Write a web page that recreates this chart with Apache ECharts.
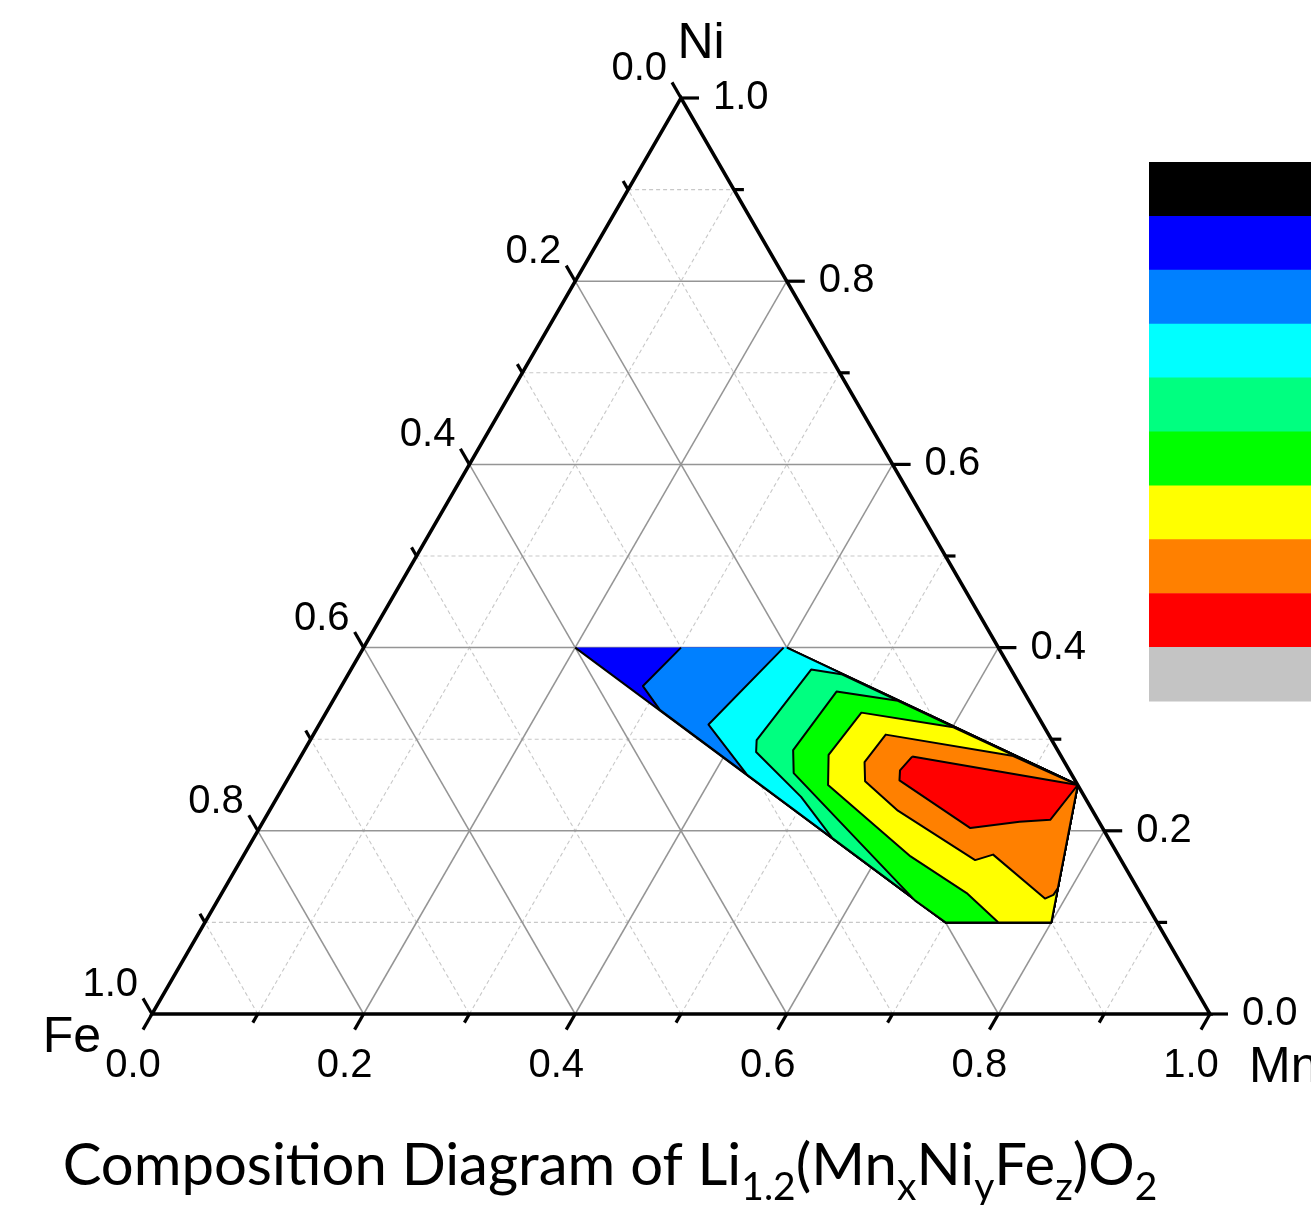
<!DOCTYPE html>
<html>
<head>
<meta charset="utf-8">
<script src="https://cdn.jsdelivr.net/npm/echarts@6/dist/echarts.min.js"></script>
<style>
  html, body { margin: 0; padding: 0; background: #ffffff; }
  #chart { width: 1311px; height: 1205px; }
</style>
</head>
<body>
<div id="chart"></div>
<script>
// Ternary axes: fractions of Mn (bottom), Ni (right), Fe (left)
const majorTicks = [0, 0.2, 0.4, 0.6, 0.8, 1.0];
const minorTicks = [0.1, 0.3, 0.5, 0.7, 0.9];
const tickLabels = ['0.0', '0.2', '0.4', '0.6', '0.8', '1.0'];
const gridMajor = [0.2, 0.4, 0.6, 0.8];
const gridMinor = [0.1, 0.3, 0.5, 0.7, 0.9];

// Contour fill colours, lowest level first
const levelColors = ['#0000ff', '#0080ff', '#00ffff', '#00ff80', '#00ff00', '#ffff00', '#ff8000', '#ff0000'];
// Colour scale column, top to bottom
const scaleColors = ['#000000', '#0000ff', '#0080ff', '#00ffff', '#00ff80', '#00ff00', '#ffff00', '#ff8000', '#ff0000', '#c4c4c4'];

// Regions at or above each contour level, as [Mn, Ni] fractions (Fe = 1 - Mn - Ni)
const level1 = [[0.4, 0.4], [0.75, 0.25], [0.8, 0.1], [0.7, 0.1], [0.2, 0.4]];
const level2 = [[0.4, 0.4], [0.75, 0.25], [0.8, 0.1], [0.7, 0.1], [0.314, 0.332], [0.285, 0.358], [0.30, 0.4]];
const level3 = [[0.397, 0.4], [0.4, 0.4], [0.75, 0.25], [0.8, 0.1], [0.7, 0.1], [0.432, 0.261], [0.368, 0.316]];
const level4 = [[0.466, 0.371], [0.75, 0.25], [0.8, 0.1], [0.7, 0.1], [0.547, 0.192], [0.495, 0.237], [0.428, 0.286], [0.422, 0.299], [0.435, 0.376]];
const level5 = [[0.534, 0.342], [0.75, 0.25], [0.8, 0.1], [0.7, 0.1], [0.659, 0.124], [0.475, 0.263], [0.462, 0.288], [0.471, 0.352]];
const level6 = [[0.601, 0.313], [0.75, 0.25], [0.8, 0.1], [0.75, 0.1], [0.704, 0.132], [0.631, 0.172], [0.514, 0.25], [0.498, 0.283], [0.506, 0.329]];
const level7 = [[0.672, 0.282], [0.75, 0.25], [0.7875, 0.1375], [0.787, 0.130], [0.781, 0.126], [0.708, 0.174], [0.694, 0.168], [0.594, 0.222], [0.547, 0.254], [0.536, 0.275], [0.541, 0.305]];
const level8 = [[0.578, 0.281], [0.75, 0.25], [0.743, 0.212], [0.715, 0.210], [0.672, 0.203], [0.579, 0.255], [0.574, 0.266]];
const levels = [level1, level2, level3, level4, level5, level6, level7, level8];

const SQ = Math.sqrt(3) / 2;
// ternary [Mn, Ni] -> cartesian data coordinates
function tern(p) { return [p[0] + p[1] / 2, p[1] * SQ]; }

const LABEL_FONT = 'Liberation Sans, Arial, sans-serif';

// endpoints of a constant-fraction line for a given component
function constLine(comp, t) {
  if (comp === 0) return [[t, 0], [t, 1 - t]];          // Mn = t
  if (comp === 1) return [[0, t], [1 - t, t]];          // Ni = t
  return [[1 - t, 0], [0, 1 - t]];                      // Fe = t
}

function gridData(vals) {
  const out = [];
  vals.forEach(t => { for (let c = 0; c < 3; c++) out.push([c, t]); });
  return out;
}

function gridSeries(vals, style) {
  return {
    type: 'custom',
    coordinateSystem: 'cartesian2d',
    silent: true,
    data: gridData(vals),
    renderItem: function (params, api) {
      const ends = constLine(api.value(0), api.value(1));
      const a = api.coord(tern(ends[0]));
      const b = api.coord(tern(ends[1]));
      return { type: 'line', shape: { x1: a[0], y1: a[1], x2: b[0], y2: b[1] }, style: style };
    }
  };
}

const contourSeries = {
  type: 'custom',
  coordinateSystem: 'cartesian2d',
  silent: true,
  data: levels.map((l, i) => [i]),
  renderItem: function (params, api) {
    const idx = api.value(0);
    const poly = levels[idx];
    const pts = poly.map(p => api.coord(tern(p)));
    const children = [{
      type: 'polygon',
      shape: { points: pts },
      style: { fill: levelColors[idx], stroke: null }
    }];
    // outline every edge except the ones lying on the Ni = 0.4 boundary
    const n = poly.length;
    let run = [];
    const runs = [];
    let start = 0;
    for (let i = 0; i < n; i++) {
      const a = poly[i], b = poly[(i + 1) % n];
      if (a[1] >= 0.3995 && b[1] >= 0.3995) { start = (i + 1) % n; break; }
    }
    for (let k = 0; k < n; k++) {
      const i = (start + k) % n;
      const a = poly[i], b = poly[(i + 1) % n];
      const skip = a[1] >= 0.3995 && b[1] >= 0.3995;
      if (skip) {
        if (run.length) { runs.push(run); run = []; }
      } else {
        if (!run.length) run.push(pts[i]);
        run.push(pts[(i + 1) % n]);
      }
    }
    if (run.length) runs.push(run);
    runs.forEach(r => {
      children.push({
        type: 'polyline',
        shape: { points: r },
        style: { stroke: '#000000', lineWidth: 2, fill: null, lineJoin: 'round' }
      });
    });
    return { type: 'group', children: children };
  }
};

function label(x, y, text, align, size) {
  return {
    type: 'text',
    x: x, y: y,
    style: {
      text: text, fill: '#000000',
      fontSize: size, fontFamily: LABEL_FONT,
      align: align, verticalAlign: 'middle',
      textAlign: align, textVerticalAlign: 'middle'
    }
  };
}

const frameSeries = {
  type: 'custom',
  coordinateSystem: 'cartesian2d',
  silent: true,
  data: [[0]],
  renderItem: function (params, api) {
    const fe = api.coord(tern([0, 0]));
    const mn = api.coord(tern([1, 0]));
    const ni = api.coord(tern([0, 1]));
    const kids = [{
      type: 'polygon',
      shape: { points: [fe, mn, ni] },
      style: { fill: null, stroke: '#000000', lineWidth: 3.5, lineJoin: 'miter' }
    }];
    const tick = (p, dir, len) => kids.push({
      type: 'line',
      shape: { x1: p[0], y1: p[1], x2: p[0] + dir[0] * len, y2: p[1] + dir[1] * len },
      style: { stroke: '#000000', lineWidth: 3.2 }
    });
    const dRight = [1, 0], dBottom = [-0.5, SQ], dLeft = [-0.5, -SQ];
    const ticks = majorTicks.map(t => [t, 18]).concat(minorTicks.map(t => [t, 10]));
    ticks.forEach(([t, len]) => {
      tick(api.coord(tern([1 - t, t])), dRight, len);   // Ni axis
      tick(api.coord(tern([t, 0])), dBottom, len);      // Mn axis
      tick(api.coord(tern([0, 1 - t])), dLeft, len);    // Fe axis
    });
    majorTicks.forEach((t, i) => {
      const pr = api.coord(tern([1 - t, t]));
      kids.push(label(pr[0] + 32, pr[1], tickLabels[i], 'left', 40));
      const pb = api.coord(tern([t, 0]));
      kids.push(label(pb[0] - 19, pb[1] + 52, tickLabels[i], 'center', 40));
      const pl = api.coord(tern([0, 1 - t]));
      kids.push(label(pl[0] - 14, pl[1] - 29, tickLabels[i], 'right', 40));
    });
    kids.push(label(ni[0] + 20, ni[1] - 54, 'Ni', 'center', 50));
    kids.push(label(fe[0] - 80, fe[1] + 24, 'Fe', 'center', 50));
    kids.push(label(mn[0] + 39, mn[1] + 54, 'Mn', 'left', 50));
    return { type: 'group', children: kids };
  }
};

// colour scale column
const scaleTop = 162, scaleBandH = 53.9, scaleLeft = 1149, scaleW = 170;
const scaleRects = scaleColors.map((c, i) => ({
  type: 'rect',
  shape: { x: scaleLeft, y: scaleTop + i * scaleBandH, width: scaleW, height: scaleBandH + 0.6 },
  style: { fill: c },
  silent: true
}));

const chart = echarts.init(document.getElementById('chart'), null, { renderer: 'canvas' });
chart.setOption({
  animation: false,
  backgroundColor: '#ffffff',
  grid: { left: 152, top: 98, width: 1058, height: 916, containLabel: false },
  xAxis: { type: 'value', min: 0, max: 1, show: false },
  yAxis: { type: 'value', min: 0, max: SQ, show: false },
  series: [
    gridSeries(gridMinor, { stroke: '#c8c8c8', lineWidth: 1.1, lineDash: [4, 3] }),
    gridSeries(gridMajor, { stroke: '#959595', lineWidth: 1.5 }),
    contourSeries,
    frameSeries
  ],
  graphic: [
    { type: 'group', children: scaleRects },
    {
      type: 'text',
      x: 610, y: 1166,
      silent: true,
      style: {
        text: '{m|Composition Diagram of Li}{s|1.2}{m|(Mn}{s|x}{m|Ni}{s|y}{m|Fe}{s|z}{m|)O}{s|2}',
        align: 'center', verticalAlign: 'middle',
        textAlign: 'center', textVerticalAlign: 'middle',
        fill: '#000000',
        rich: {
          m: { fontSize: 58, fontFamily: 'Lato, sans-serif', fill: '#000000', color: '#000000', verticalAlign: 'middle' },
          s: { fontSize: 39, fontFamily: 'Lato, sans-serif', fill: '#000000', color: '#000000', verticalAlign: 'bottom', padding: [42, 0, 0, 0] }
        }
      }
    }
  ]
});
</script>
</body>
</html>
